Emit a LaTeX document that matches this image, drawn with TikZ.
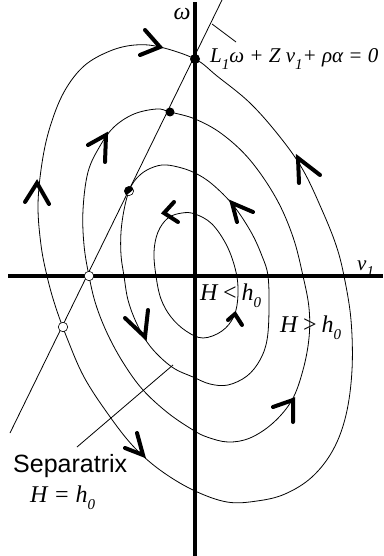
\documentclass[tikz,border=0pt]{standalone}
\usepackage{fontspec}
\usetikzlibrary{calc}
\setmainfont{Liberation Serif}
\newfontfamily\sepfont{Liberation Sans}
\newcommand{\lowsub}[1]{\raisebox{-0.32em}{\fontsize{15}{15}\selectfont #1}}
\begin{document}
\begin{tikzpicture}[x=1pt,y=-1pt,
  curve/.style={line width=0.8pt, line join=round},
  axis/.style={line width=4.8pt},
  chev/.style={line width=4pt, line cap=round, line join=miter},
  opendot/.style={circle, draw, fill=white, inner sep=0pt, minimum size=9.5pt, line width=0.6pt},
  fulldot/.style={circle, fill=black, inner sep=0pt, minimum size=9pt},
  lab/.style={font=\fontsize{21}{24}\selectfont\itshape, inner sep=0pt},
  big/.style={font=\fontsize{24}{27}\selectfont\itshape, inner sep=0pt}]
\useasboundingbox (0,0) rectangle (383,556);
\fill[white] (0,0) rectangle (383,556);

% closed orbits
\draw[curve] plot[smooth cycle, tension=0.6] coordinates {
 (195,59) (217,76) (250,103) (280,137) (303,170) (322,210) (336,245) (344,276)
 (351,320) (352,370) (346,415) (333,450) (312,477) (285,494) (257,501) (227,502)
 (193,490) (160,470) (133,446) (108,414) (84,377) (67,338) (55,305) (47,276)
 (41,245) (38,205) (42,163) (50,127) (64,92) (84,66) (110,51) (135,45) (160,47)};
\draw[curve] plot[smooth cycle, tension=0.6] coordinates {
 (195,119) (222,134) (250,160) (276,198) (293,237) (303,276) (309,308) (309,338)
 (303,370) (292,400) (273,423) (250,438) (228,442) (207,437) (193,430) (168,413)
 (143,390) (124,364) (108,335) (96,305) (89,276) (84,245) (83,210) (88,172)
 (100,146) (114,127) (134,114) (157,109) (170,112)};
\draw[curve] plot[smooth cycle, tension=0.6] coordinates {
 (195,173) (212,184) (233,205) (251,232) (262,256) (268,276) (269,310) (267,340)
 (260,360) (247,376) (228,385) (210,384) (193,377) (175,369) (160,357) (147,342)
 (136,322) (128,300) (124,276) (121,255) (121,232) (124,210) (129,191) (136,179)
 (147,170) (162,165) (178,167)};
\draw[curve] plot[smooth cycle, tension=0.6] coordinates {
 (195,214) (212,224) (227,246) (236,272) (238,295) (234,316) (222,331) (203,338)
 (186,331) (171,317) (161,299) (156,276) (154,252) (158,232) (168,218) (182,213)};

% axes
\coordinate (yb) at (195,556); \coordinate (yt) at (195,2);
\coordinate (xl) at (8,276);   \coordinate (xr) at (383,276);
\draw[axis] (xl) -- (xr);
\draw[axis] (yb) -- (yt);

% straight line L1 w + Z v1 + rho alpha = 0
\coordinate (lb) at (10,433); \coordinate (lt) at (222,0);
\draw[curve] (lb) -- (lt);
\coordinate (p1) at (212,24); \coordinate (p2) at (236,42);
\draw[curve] (p1) -- (p2);
% separatrix pointer
\coordinate (s1) at (77,447); \coordinate (s2) at (173,365);
\draw[curve] (s1) -- (s2);

% dots
\node[fulldot, minimum size=10pt] (d1) at (195,59) {};
\node[fulldot] (d2) at (170,112) {};
\node[opendot] (o1) at (89,276) {};
\node[opendot] (o2) at (63,327) {};
\coordinate (hd) at (129,191);
\fill[white] (hd) circle[radius=4.6];
\begin{scope}
  \clip (hd) circle[radius=4.6];
  \fill[black] ($(hd)+(-9,-14)$) -- ($(hd)+(6,-3)$) -- ($(hd)+(1.5,1)$) -- ($(hd)+(-9,9)$) -- cycle;
\end{scope}
\draw[line width=0.6pt] (hd) circle[radius=4.6];

% direction chevrons
\draw[chev] (145,30) -- (160,47) -- (140,55);
\draw[chev] (25,202) -- (37,183) -- (49,204);
\draw[chev] (88,145) -- (106,135) -- (105,162);
\draw[chev] (174,202) -- (164,213) -- (178,222);
\draw[chev] (253,212) -- (232,203) -- (237,222);
\draw[chev] (320,175) -- (298,158) -- (299,183);
\draw[chev] (125,318) -- (145,337) -- (148,310);
\draw[chev] (228,320) -- (235,314) -- (242,325);
\draw[chev] (273,407) -- (293,400) -- (293,422);
\draw[chev] (125,448) -- (143,455) -- (137,433);

% labels
\node[font=\fontsize{24}{26}\selectfont\itshape, inner sep=0pt, anchor=base] (lw) at (182,20) {ω};
\node[lab, anchor=base west] (lv) at (357,270) {v\lowsub{1}};
\node[lab, anchor=base west] (eq) at (210,63) {L\lowsub{1}ω + Z v\lowsub{1}+ ρα = 0};
\node[big, anchor=base west] (hl) at (200,300) {H\,<\,h\lowsub{0}};
\node[big, anchor=base west] (hg) at (280,332) {H\,>\,h\lowsub{0}};
\node[font=\sepfont\fontsize{25}{28}\selectfont, anchor=base west, inner sep=0pt] (sp) at (13,472) {Separatrix};
\node[big, anchor=base west] (he) at (30,502) {H = h\lowsub{0}};
\end{tikzpicture}
\end{document}
